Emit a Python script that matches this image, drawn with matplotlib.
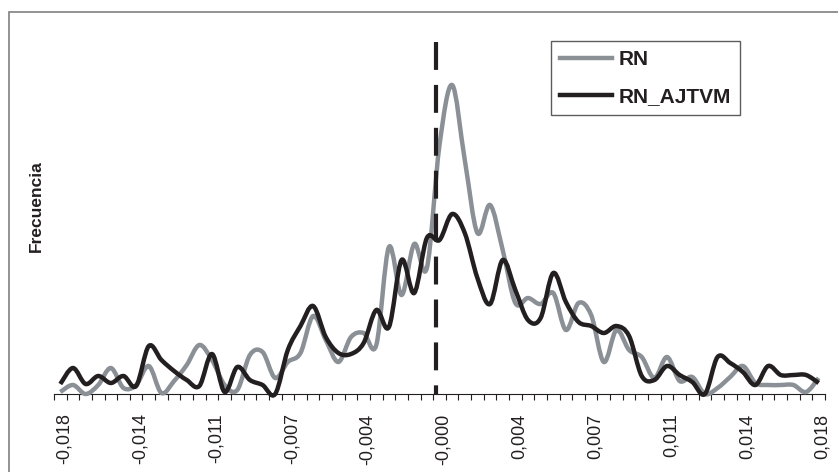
"""Frequency distribution of RN vs RN_AJTVM (smoothed lines, Excel style)."""
import matplotlib
matplotlib.use("Agg")
import matplotlib.pyplot as plt
import numpy as np
from matplotlib.lines import Line2D
from matplotlib.patches import PathPatch, Rectangle
from matplotlib.path import Path
from matplotlib.transforms import ScaledTranslation

plt.rcParams["font.family"] = ["Liberation Sans", "DejaVu Sans"]

INK = "#231f20"
GRAY = "#8a9095"
FRAME = "#808080"

# 61 bins from -0,018 to 0,018 (step 0,0006); one label every 6 bins
TICK_LABELS = ["-0,018", "-0,014", "-0,011", "-0,007", "-0,004", "-0,000",
               "0,004", "0,007", "0,011", "0,014", "0,018"]
LABEL_EVERY = 6
ZERO_BIN = 29.7  # where the dashed reference line sits

RN = [0.2, 0.9, 0.0, 0.9, 2.6, 0.6, 0.9, 2.8, 0.1, 1.3,
      2.9, 4.9, 3.4, 0.9, 0.4, 3.9, 4.2, 1.6, 3.2, 4.1,
      7.8, 5.4, 3.2, 5.7, 6.1, 4.9, 14.7, 9.9, 15.0, 12.6,
      24.9, 30.9, 23.4, 16.1, 18.9, 14.4, 9.1, 9.6, 9.0, 10.1,
      6.4, 9.1, 7.9, 3.2, 6.4, 4.4, 3.7, 1.6, 3.7, 1.3,
      1.7, 0.0, 0.6, 1.7, 2.8, 1.1, 0.9, 0.9, 0.9, 0.2,
      1.6]
RN_AJTVM = [1.0, 2.6, 1.0, 1.8, 1.1, 1.8, 0.8, 4.8, 3.4, 2.3,
            1.4, 0.8, 4.0, 0.2, 2.7, 1.4, 0.9, 0.0, 4.4, 6.8,
            8.8, 5.7, 4.1, 4.0, 5.1, 8.4, 6.7, 13.4, 10.1, 15.6,
            15.4, 18.0, 16.1, 11.6, 9.0, 13.4, 10.4, 7.4, 7.6, 12.1,
            9.2, 7.2, 6.8, 6.1, 6.8, 5.8, 1.8, 1.4, 2.8, 1.9,
            1.2, 0.0, 3.7, 3.1, 2.2, 0.9, 2.8, 1.9, 1.9, 1.9,
            1.1]
Y_MAX = 35.4


def smooth_path(values):
    """Catmull-Rom style cubic Bezier through the points (Excel smoothed line)."""
    pts = np.column_stack([np.arange(len(values)), values]).astype(float)
    verts = [pts[0]]
    codes = [Path.MOVETO]
    n = len(pts)
    for i in range(n - 1):
        p0 = pts[i - 1] if i > 0 else pts[i]
        p1, p2 = pts[i], pts[i + 1]
        p3 = pts[i + 2] if i + 2 < n else pts[i + 1]
        verts += [p1 + (p2 - p0) / 6, p2 - (p3 - p1) / 6, p2]
        codes += [Path.CURVE4] * 3
    return Path(verts, codes)


fig = plt.figure(figsize=(8.38, 4.72), dpi=100)
ax = fig.add_axes([54 / 838, 1 - 394 / 472, 771 / 838, 354 / 472])

for values, color in ((RN, GRAY), (RN_AJTVM, INK)):
    ax.add_patch(PathPatch(smooth_path(values), fill=False, edgecolor=color,
                           linewidth=3.2, joinstyle="round", capstyle="butt",
                           clip_on=False, zorder=3))

ax.plot([ZERO_BIN, ZERO_BIN], [35.2, 0], color=INK, linewidth=3.0,
        dashes=(6.7, 3.6), zorder=4, clip_on=False)

n_bins = len(RN)
ax.set_xlim(-0.5, n_bins - 0.5)
ax.set_ylim(0, Y_MAX)

ax.set_xticks(np.arange(0, n_bins, LABEL_EVERY))
ax.set_xticklabels(TICK_LABELS, rotation=90, fontsize=13, color=INK, va="top")
ax.set_xticks(np.arange(-0.5, n_bins, 1), minor=True)
ax.tick_params(axis="x", which="major", length=0, pad=14)
ax.tick_params(axis="x", which="minor", length=4, width=0.8, color=INK, direction="out")
offset = ScaledTranslation(4 / 100, 0, fig.dpi_scale_trans)
for label in ax.get_xticklabels():
    label.set_transform(label.get_transform() + offset)

ax.set_yticks([])
for spine in ("top", "right", "left"):
    ax.spines[spine].set_visible(False)
ax.spines["bottom"].set_color(INK)
ax.spines["bottom"].set_linewidth(0.8)

ax.set_ylabel("Frecuencia", fontsize=12.5, fontweight="bold", color=INK)
ax.yaxis.set_label_coords(-10 / 771, 0.53)

handles = [Line2D([], [], color=GRAY, linewidth=3.2),
           Line2D([], [], color=INK, linewidth=3.2)]
leg = fig.legend(handles, ["RN", "RN_AJTVM"], loc="upper left",
                 bbox_to_anchor=(551 / 838, 1 - 41 / 472),
                 prop={"size": 15, "weight": "bold"}, frameon=True, fancybox=False,
                 handlelength=2.5, handletextpad=0.3, labelspacing=0.85,
                 borderpad=0.45, borderaxespad=0)
leg.get_frame().set_edgecolor("#333333")
leg.get_frame().set_linewidth(1.0)
for text in leg.get_texts():
    text.set_color(INK)

fig.add_artist(Rectangle((9 / 838, -0.1), 2, 1.1 - 12 / 472, transform=fig.transFigure,
                         fill=False, edgecolor=FRAME, linewidth=1.2))

fig.savefig("out.png", dpi=100, facecolor="white")
